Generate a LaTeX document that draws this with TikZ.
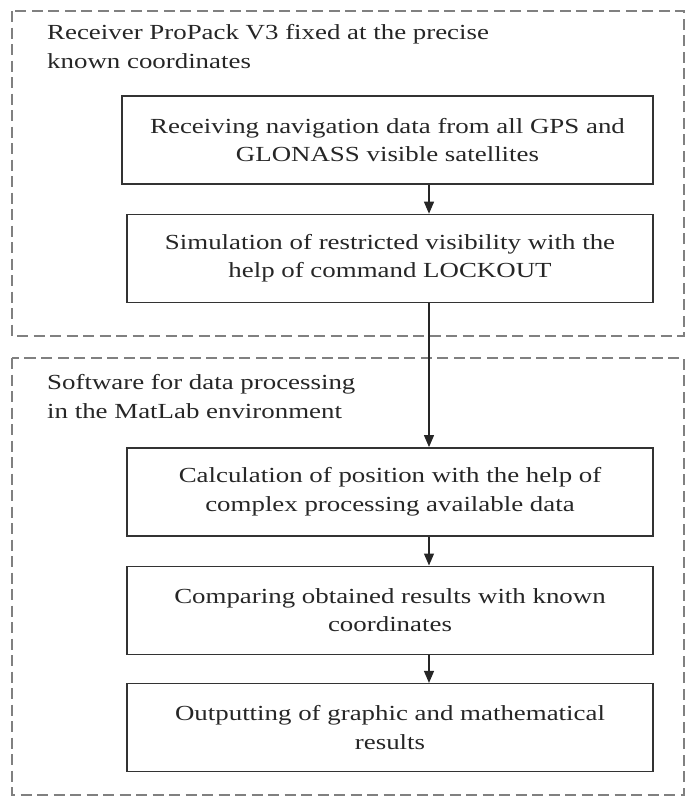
\documentclass[tikz,border=0pt]{standalone}
\usepackage{fontspec}
\setmainfont{Liberation Serif}[FakeStretch=1.25]
\usetikzlibrary{positioning,arrows.meta}

\begin{document}
\begin{tikzpicture}[x=1pt,y=-1pt,
	every node/.style={font=\fontsize{21.5}{28.5}\selectfont, text=black!85},
	frame/.style={draw=black!50, line width=2.2pt, dash pattern=on 11pt off 5.5pt},
	block/.style={draw=black!80, line width=1.4pt, align=center, inner sep=0pt,
		minimum width=526pt, minimum height=88pt},
	title/.style={anchor=base west, align=left, inner sep=0pt},
	flow/.style={-{Triangle[length=12pt,width=10pt]}, color=black!85, line width=1.2pt}]
	\useasboundingbox (0,0) rectangle (686,796);
	
	% dashed frames
	\draw[frame] (12,11) rectangle (684,336);
	\draw[frame] (12,358) rectangle (684,795);
	
	% titles (anchored at the baseline of their last line)
	\node[title] (rx) at (47,68) {Receiver ProPack V3 fixed at the precise\\known coordinates};
	\node[title] (sw) at (47,418) {Software for data processing\\in the MatLab environment};
	
	\node[block, minimum width=531pt] (recv) at (387.5,140)
		{Receiving navigation data from all GPS and\\GLONASS visible satellites};
	\node[block] (sim) [below=29pt of recv, xshift=2.5pt]
		{Simulation of restricted visibility with the\\help of command LOCKOUT};
	\node[block] (calc) [below=144pt of sim]
		{Calculation of position with the help of\\complex processing available data};
	\node[block] (comp) [below=29pt of calc]
		{Comparing obtained results with known\\coordinates};
	\node[block] (out) [below=28pt of comp]
		{Outputting of graphic and mathematical\\results};
	
	\coordinate (ax) at (429,0);
	\path[flow]
	(recv.south -| ax) edge (sim.north -| ax)
	(sim.south -| ax)  edge (calc.north -| ax)
	(calc.south -| ax) edge (comp.north -| ax)
	(comp.south -| ax) edge (out.north -| ax);
\end{tikzpicture}
\end{document}
